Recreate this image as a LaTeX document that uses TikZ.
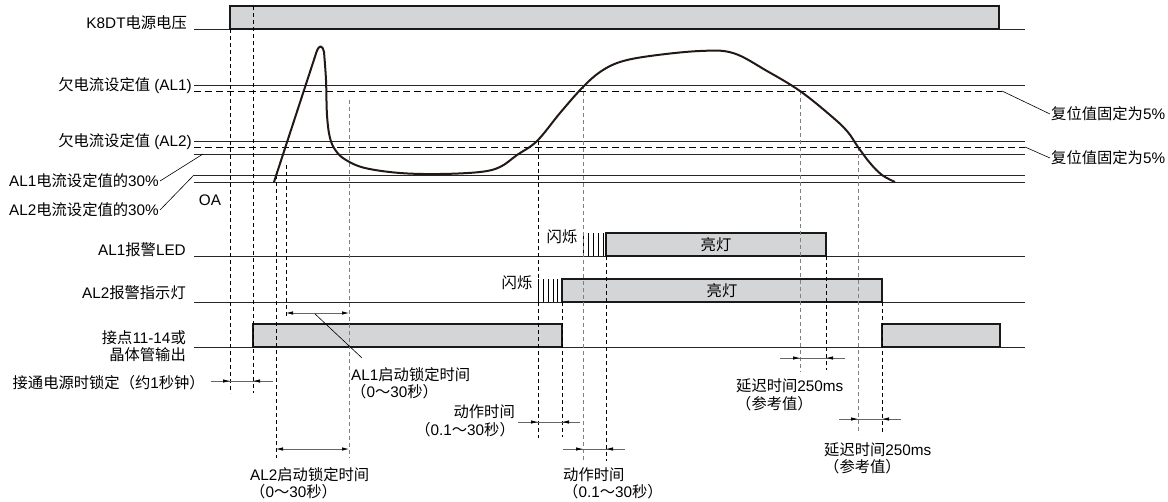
\documentclass[tikz,border=0pt]{standalone}
\usepackage{fontspec}
\setmainfont{Liberation Sans}
\newfontfamily\zhfont{Noto Sans CJK SC}
\newcommand{\zh}[1]{{\zhfont #1}}
\usetikzlibrary{arrows.meta}
\definecolor{boxgray}{RGB}{212,213,215}
\definecolor{curvebrown}{RGB}{35,24,21}
\tikzset{
	sigline/.style={line width=0.8pt,draw=black!85},
	onbox/.style={rectangle,draw=black!90,line width=1.4pt,fill=boxgray,inner sep=0pt},
	guide/.style={line width=0.7pt,dash pattern=on 4pt off 3pt,draw=black},
	guidegray/.style={guide,draw=black!50},
	resetline/.style={line width=0.8pt,dash pattern=on 7pt off 4pt},
	dimline/.style={line width=0.7pt,draw=black!60},
	dimarrow/.style={dimline,-{Latex[length=7pt,width=3.5pt,color=black]}},
	dimboth/.style={dimline,{Latex[length=7pt,width=3.5pt,color=black]}-{Latex[length=7pt,width=3.5pt,color=black]}},
	sigtext/.style={inner sep=1pt},
}

\begin{document}
\begin{tikzpicture}[x=1pt,y=-1pt,font=\fontsize{15.3}{17.5}\selectfont]
		\useasboundingbox (0,0) rectangle (1168,501);

		\foreach \ly in {29,85,141,154,175,182,256,302,347}{
			\draw[sigline] (194,\ly) -- (1025,\ly);
		}
		\draw[resetline] (194,91) -- (1002,91);
		\draw[resetline] (194,147) -- (1025,147);

		\node (supply)[onbox,minimum width=769,minimum height=23] at (614.5,17.5) {};
		\node (led1)[onbox,minimum width=220,minimum height=23] at (716,244.5) {\zh{亮灯}};
		\node (led2)[onbox,minimum width=320,minimum height=23] at (722,290.5) {\zh{亮灯}};
		\node (out1)[onbox,minimum width=309,minimum height=23] at (407.5,335.5) {};
		\node (out2)[onbox,minimum width=118,minimum height=23] at (941,335.5) {};

		\foreach \fx in {583,588,593,598,603}{
			\draw[line width=0.7pt] (\fx,233) -- (\fx,256);
		}
		\foreach \fx in {538,543,548,553,557.5}{
			\draw[line width=0.7pt] (\fx,279) -- (\fx,302);
		}

		\foreach \gx/\gtop/\gbot in {230/29/393, 253/6/393, 276/175/458, 286/165/318, 538/141/438, 562/302/437, 606/256/461, 826/256/370, 882/302/433}{
			\draw[guide] (\gx,\gtop) -- (\gx,\gbot);
		}
		\foreach \gx/\gtop/\gbot in {349/100/458, 583/85/461, 800/91/372, 858/147/434}{
			\draw[guidegray] (\gx,\gtop) -- (\gx,\gbot);
		}

		\draw[line width=2pt,curvebrown,line join=round] (274,182) -- (316.5,52) .. controls (319,45) and (322,44) .. (324,52)
			-- plot[smooth,tension=0.6] coordinates {(324,52) (326,80) (327,115) (330,138) (336,151) (346,160) (365,168) (400,173) (440,174) (480,172) (500,167) (517,155) (537,141) (560,113) (582,88) (600,72) (620,62) (650,56) (700,51) (733,53) (767,71) (800,91) (830,115) (847,131) (858,147) (870,163) (882,175) (895,182)};

		\node (supplytext)[sigtext,anchor=east] at (188,23) {K8DT\zh{电源电压}};
		\node (al1text)[sigtext,anchor=east] at (193,86) {\zh{欠电流设定值} (AL1)};
		\node (al2text)[sigtext,anchor=east] at (193,142) {\zh{欠电流设定值} (AL2)};
		\node (pct1text)[sigtext,anchor=east] at (160,181) {AL1\zh{电流设定值的}30\%};
		\node (pct2text)[sigtext,anchor=east] at (160,210) {AL2\zh{电流设定值的}30\%};
		\node (zerotext)[sigtext] at (210,200) {OA};
		\node (led1text)[sigtext,anchor=east] at (187,250) {AL1\zh{报警}LED};
		\node (led2text)[sigtext,anchor=east] at (187,293) {AL2\zh{报警指示灯}};
		\node (outtext)[sigtext,anchor=east,align=right] at (187,346) {\zh{接点}11-14\zh{或}\\\zh{晶体管输出}};
		\node (locktext)[sigtext,anchor=east] at (206,383) {\zh{接通电源时锁定（约}1\zh{秒钟）}};
		\node (flash1)[sigtext] at (562,237) {\zh{闪烁}};
		\node (flash2)[sigtext] at (517,283) {\zh{闪烁}};
		\node (rst1)[sigtext,anchor=west] at (1050,114) {\zh{复位值固定为}5\%};
		\node (rst2)[sigtext,anchor=west] at (1050,158) {\zh{复位值固定为}5\%};

		\node (start1)[sigtext,anchor=west,align=left] at (350,383) {AL1\zh{启动锁定时间}\\\zh{（}0\zh{～}30\zh{秒）}};
		\node (start2)[sigtext,anchor=west,align=left] at (249,483) {AL2\zh{启动锁定时间}\\\zh{（}0\zh{～}30\zh{秒）}};
		\node (act2)[sigtext,anchor=east,align=right] at (516,421) {\zh{动作时间}\\\zh{（}0.1\zh{～}30\zh{秒）}};
		\node (act1)[sigtext,anchor=west,align=left] at (562,483.5) {\zh{动作时间}\\\zh{（}0.1\zh{～}30\zh{秒）}};
		\node (delay1)[sigtext,anchor=west,align=left] at (735,395) {\zh{延迟时间}250ms\\\zh{（参考值）}};
		\node (delay2)[sigtext,anchor=west,align=left] at (823,458.5) {\zh{延迟时间}250ms\\\zh{（参考值）}};
		\coordinate (start1lead) at (362,358);

		\draw[line width=0.6pt] (pct1text.east) -- (203,154);
		\draw[line width=0.6pt] (pct2text.east) -- (194,175);
		\draw[line width=0.6pt] (1002,91) -- (rst1.west);
		\draw[line width=0.6pt] (1025,147) -- (rst2.west);
		\draw[line width=0.6pt] (314,313) -- (start1lead);

		\draw[dimline] (211,381) -- (273,381);
		\draw[dimarrow] (211,381) -- (230,381);
		\draw[dimarrow] (273,381) -- (253,381);
		\draw[dimboth] (286,313) -- (349,313);
		\draw[dimboth] (276,449) -- (349,449);
		\draw[dimline] (518,422) -- (580,422);
		\draw[dimarrow] (518,422) -- (538,422);
		\draw[dimarrow] (580,422) -- (562,422);
		\draw[dimline] (563,449) -- (625,449);
		\draw[dimarrow] (563,449) -- (583,449);
		\draw[dimarrow] (625,449) -- (606,449);
		\draw[dimline] (780,358) -- (845,358);
		\draw[dimarrow] (780,358) -- (800,358);
		\draw[dimarrow] (845,358) -- (826,358);
		\draw[dimline] (839,419) -- (901,419);
		\draw[dimarrow] (839,419) -- (858,419);
		\draw[dimarrow] (901,419) -- (882,419);
\end{tikzpicture}
\end{document}
